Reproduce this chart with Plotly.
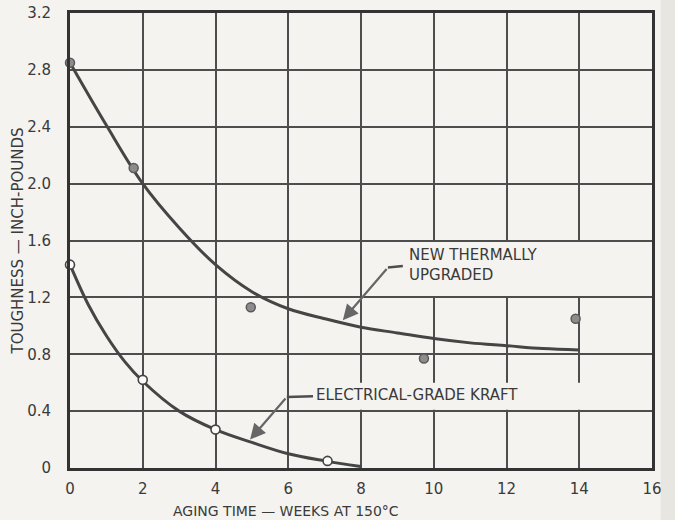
import plotly.graph_objects as go

# ---- data ----
upgraded_pts_x = [0.0, 1.75, 4.97, 9.73, 13.9]
upgraded_pts_y = [2.85, 2.11, 1.13, 0.77, 1.05]

kraft_pts_x = [0.0, 2.0, 4.0, 7.08]
kraft_pts_y = [1.43, 0.62, 0.27, 0.05]

upgraded_curve_x = [0, 1, 2, 3, 4, 5, 6, 7, 8, 9, 10, 11, 12, 13, 14]
upgraded_curve_y = [2.85, 2.41, 2.0, 1.69, 1.43, 1.24, 1.12, 1.05, 0.99, 0.95, 0.91, 0.88, 0.86, 0.84, 0.83]

kraft_curve_x = [0, 0.5, 1, 1.5, 2, 3, 4, 5, 6, 7, 8]
kraft_curve_y = [1.43, 1.15, 0.93, 0.75, 0.61, 0.40, 0.27, 0.18, 0.10, 0.05, 0.01]

x_ticks = [0, 2, 4, 6, 8, 10, 12, 14, 16]
y_ticks = [0, 0.4, 0.8, 1.2, 1.6, 2.0, 2.4, 2.8, 3.2]
y_tick_labels = ["0", "0.4", "0.8", "1.2", "1.6", "2.0", "2.4", "2.8", "3.2"]

x_title = "AGING TIME — WEEKS AT 150°C"
y_title = "TOUGHNESS — INCH-POUNDS"
label_upgraded = "NEW THERMALLY<br>UPGRADED"
label_kraft = "ELECTRICAL-GRADE KRAFT"

# ---- styling ----
PAPER = "#f4f3ef"
INK = "#3a3a3a"
GRID = "#4d4d4d"
CURVE = "#454545"
FONT = "DejaVu Sans"

fig = go.Figure()

fig.add_trace(go.Scatter(x=upgraded_curve_x, y=upgraded_curve_y, mode="lines",
                         line=dict(color=CURVE, width=3, shape="spline", smoothing=1),
                         hoverinfo="skip", showlegend=False))
fig.add_trace(go.Scatter(x=kraft_curve_x, y=kraft_curve_y, mode="lines",
                         line=dict(color=CURVE, width=3, shape="spline", smoothing=1),
                         hoverinfo="skip", showlegend=False))
fig.add_trace(go.Scatter(x=upgraded_pts_x, y=upgraded_pts_y, mode="markers",
                         marker=dict(size=9, color="#8c8c8c", line=dict(color="#5a5a5a", width=1.5)),
                         cliponaxis=False, name="New thermally upgraded", showlegend=False))
fig.add_trace(go.Scatter(x=kraft_pts_x, y=kraft_pts_y, mode="markers",
                         marker=dict(size=9, color="#fbfbf9", line=dict(color="#444444", width=1.6)),
                         cliponaxis=False, name="Electrical-grade kraft", showlegend=False))

# label backgrounds covering the grid
shapes = [
    dict(type="rect", xref="x", yref="y", x0=8.95, x1=14.7, y0=1.21, y1=1.59,
         fillcolor=PAPER, line=dict(width=0), layer="between"),
    dict(type="rect", xref="x", yref="y", x0=6.3, x1=14.75, y0=0.41, y1=0.60,
         fillcolor=PAPER, line=dict(width=0), layer="between"),
    # leader horizontal segments
    dict(type="line", xref="x", yref="y", x0=8.74, x1=9.15, y0=1.41, y1=1.42,
         line=dict(color=GRID, width=2.5)),
    dict(type="line", xref="x", yref="y", x0=5.96, x1=6.68, y0=0.50, y1=0.505,
         line=dict(color=GRID, width=2.5)),
    # scanner edge strip
    dict(type="rect", xref="paper", yref="paper", x0=1.015, x1=1.05, y0=-0.2, y1=1.1,
         fillcolor="#e7e6e1", line=dict(width=0), layer="below"),
]

annotations = [
    dict(x=7.5, y=1.04, ax=8.74, ay=1.41, xref="x", yref="y", axref="x", ayref="y",
         text="", showarrow=True, arrowhead=2, arrowsize=1.4, arrowwidth=2.2, arrowcolor="#666"),
    dict(x=4.95, y=0.20, ax=5.96, ay=0.50, xref="x", yref="y", axref="x", ayref="y",
         text="", showarrow=True, arrowhead=2, arrowsize=1.4, arrowwidth=2.2, arrowcolor="#666"),
    dict(x=9.27, y=1.425, xref="x", yref="y", text=label_upgraded, showarrow=False,
         xanchor="left", yanchor="middle", align="left",
         font=dict(family=FONT, size=15, color=INK)),
    dict(x=6.72, y=0.513, xref="x", yref="y", text=label_kraft, showarrow=False,
         xanchor="left", yanchor="middle", align="left",
         font=dict(family=FONT, size=15, color=INK)),
    # x-axis title (offset left of centre, as in the original)
    dict(x=0.371, y=-0.094, xref="paper", yref="paper", text=x_title, showarrow=False,
         xanchor="center", yanchor="middle",
         font=dict(family=FONT, size=14, color=INK)),
]

fig.update_layout(
    width=675, height=520,
    margin=dict(l=70, r=23, t=13, b=52),
    paper_bgcolor=PAPER, plot_bgcolor=PAPER,
    font=dict(family=FONT, size=14, color=INK),
    shapes=shapes, annotations=annotations,
    showlegend=False,
)

fig.update_xaxes(range=[0, 16], tickvals=x_ticks, ticktext=[str(t) for t in x_ticks],
                 showgrid=True, gridcolor=GRID, gridwidth=2, automargin=False,
                 showline=True, mirror=True, linecolor="#333", linewidth=3,
                 ticks="", ticklabelstandoff=5, zeroline=False,
                 tickfont=dict(family=FONT, size=15, color=INK))
fig.update_yaxes(range=[0, 3.2], tickvals=y_ticks, ticktext=y_tick_labels,
                 showgrid=True, gridcolor=GRID, gridwidth=2, automargin=False,
                 showline=True, mirror=True, linecolor="#333", linewidth=3,
                 ticks="", ticklabelstandoff=13, zeroline=False,
                 tickfont=dict(family=FONT, size=15, color=INK),
                 title=dict(text=y_title, standoff=0,
                            font=dict(family=FONT, size=15, color=INK)))

page_fix = ("document.body.style.margin='0';"
            "document.body.style.overflow='hidden';"
            "document.body.style.background='" + PAPER + "';")

fig.write_html("out.html", post_script=page_fix, config={"displayModeBar": False})
